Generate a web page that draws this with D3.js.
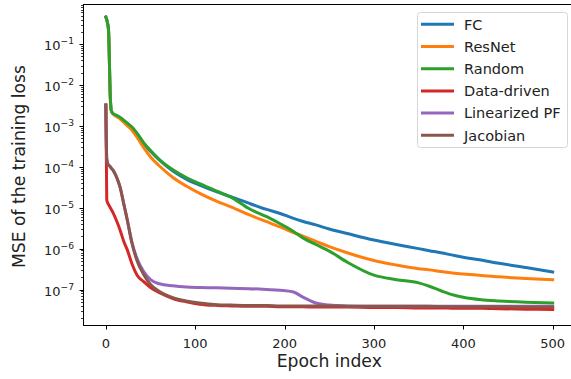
<!DOCTYPE html>
<html>
<head>
<meta charset="utf-8">
<script src="https://cdn.jsdelivr.net/npm/d3@7"></script>
<style>
  html, body { margin: 0; padding: 0; background: #fff; }
  svg { display: block; font-family: "DejaVu Sans", sans-serif; }
</style>
</head>
<body>
<div id="chart"></div>
<script>
const epochs = [0, 1, 2, 3, 5, 6, 8, 12, 16, 20, 24, 29, 35, 42, 50, 60, 75, 90, 105, 125,
  140, 160, 180, 195, 210, 220, 235, 250, 270, 300, 325, 350, 362, 375, 390, 400, 420, 440, 470, 500];

const fc = [4.6e-1, 4.0e-1, 3.2e-1, 2.2e-1, 5.0e-3, 2.4e-3, 2.0e-3, 1.78e-3, 1.58e-3, 1.35e-3,
  1.15e-3, 9.12e-4, 6.31e-4, 3.80e-4, 2.40e-4, 1.45e-4, 7.94e-5, 5.01e-5, 3.55e-5, 2.40e-5,
  1.86e-5, 1.29e-5, 9.12e-6, 7.24e-6, 5.50e-6, 4.68e-6, 3.80e-6, 3.02e-6, 2.34e-6, 1.62e-6,
  1.26e-6, 1.00e-6, 8.91e-7, 7.94e-7, 6.76e-7, 6.17e-7, 5.25e-7, 4.37e-7, 3.47e-7, 2.69e-7];

const resnet = [4.6e-1, 4.0e-1, 3.2e-1, 2.2e-1, 5.0e-3, 2.4e-3, 2.0e-3, 1.70e-3, 1.48e-3, 1.23e-3,
  1.02e-3, 7.94e-4, 5.25e-4, 3.02e-4, 1.74e-4, 1.05e-4, 5.50e-5, 3.39e-5, 2.24e-5, 1.41e-5,
  1.05e-5, 6.76e-6, 4.57e-6, 3.39e-6, 2.45e-6, 2.04e-6, 1.51e-6, 1.12e-6, 7.94e-7, 5.13e-7,
  3.98e-7, 3.24e-7, 3.02e-7, 2.75e-7, 2.51e-7, 2.40e-7, 2.19e-7, 2.04e-7, 1.86e-7, 1.74e-7];

const random = [4.6e-1, 4.0e-1, 3.2e-1, 2.2e-1, 5.0e-3, 2.4e-3, 2.0e-3, 1.82e-3, 1.62e-3, 1.38e-3,
  1.17e-3, 9.55e-4, 6.61e-4, 3.98e-4, 2.51e-4, 1.51e-4, 8.51e-5, 5.50e-5, 3.89e-5, 2.51e-5,
  1.82e-5, 9.55e-6, 6.03e-6, 4.07e-6, 2.63e-6, 1.86e-6, 1.26e-6, 8.71e-7, 4.68e-7, 2.24e-7,
  1.74e-7, 1.45e-7, 1.20e-7, 9.33e-8, 7.24e-8, 6.46e-8, 5.62e-8, 5.25e-8, 4.90e-8, 4.68e-8];

const dataDriven = [3.24e-3, 1.58e-5, 1.32e-5, 1.20e-5, 1.00e-5, 9.12e-6, 7.59e-6, 4.79e-6, 2.82e-6, 1.51e-6,
  9.33e-7, 4.37e-7, 2.24e-7, 1.58e-7, 1.12e-7, 8.32e-8, 6.03e-8, 5.01e-8, 4.37e-8, 4.07e-8,
  3.98e-8, 3.89e-8, 3.89e-8, 3.80e-8, 3.80e-8, 3.80e-8, 3.72e-8, 3.72e-8, 3.72e-8, 3.63e-8,
  3.63e-8, 3.55e-8, 3.55e-8, 3.55e-8, 3.47e-8, 3.47e-8, 3.47e-8, 3.39e-8, 3.31e-8, 3.24e-8];

const linearizedPF = [3.24e-3, 1.58e-4, 1.20e-4, 1.12e-4, 1.00e-4, 9.33e-5, 8.32e-5, 5.62e-5, 3.16e-5, 1.26e-5,
  5.01e-6, 1.51e-6, 5.62e-7, 2.82e-7, 1.74e-7, 1.38e-7, 1.23e-7, 1.15e-7, 1.12e-7, 1.10e-7,
  1.07e-7, 1.05e-7, 1.00e-7, 9.55e-8, 8.71e-8, 6.61e-8, 4.68e-8, 4.17e-8, 3.98e-8, 3.89e-8,
  3.89e-8, 3.89e-8, 3.89e-8, 3.89e-8, 3.89e-8, 3.89e-8, 3.89e-8, 3.89e-8, 3.89e-8, 3.89e-8];

const jacobian = [3.24e-3, 1.58e-4, 1.20e-4, 1.12e-4, 1.00e-4, 9.33e-5, 8.32e-5, 5.62e-5, 3.16e-5, 1.26e-5,
  5.01e-6, 1.41e-6, 5.01e-7, 2.40e-7, 1.32e-7, 8.91e-8, 6.31e-8, 5.25e-8, 4.68e-8, 4.27e-8,
  4.17e-8, 4.07e-8, 4.07e-8, 3.98e-8, 3.98e-8, 3.98e-8, 3.98e-8, 3.98e-8, 3.89e-8, 3.89e-8,
  3.89e-8, 3.89e-8, 3.89e-8, 3.80e-8, 3.80e-8, 3.80e-8, 3.80e-8, 3.80e-8, 3.72e-8, 3.72e-8];

const seriesNames = ["FC", "ResNet", "Random", "Data-driven", "Linearized PF", "Jacobian"];
const seriesValues = [fc, resnet, random, dataDriven, linearizedPF, jacobian];
const colors = ["#1f77b4", "#ff7f0e", "#2ca02c", "#d62728", "#9467bd", "#8c564b"];

const xTicks = [0, 100, 200, 300, 400, 500];
const yTickExps = [-7, -6, -5, -4, -3, -2, -1];

const width = 571, height = 379;
const plot = { left: 83.5, right: 575, top: 4.5, bottom: 325.5 };

const svg = d3.select("#chart").append("svg")
  .attr("width", width)
  .attr("height", height);

const x = d3.scaleLinear().domain([-25, 525]).range([plot.left, plot.right]);
const y = d3.scaleLog().domain([Math.pow(10, -7.88), Math.pow(10, -0.03)]).range([plot.bottom, plot.top]);

svg.append("clipPath").attr("id", "plotClip")
  .append("rect")
  .attr("x", plot.left).attr("y", plot.top)
  .attr("width", plot.right - plot.left).attr("height", plot.bottom - plot.top);

// curves
const line = d3.line()
  .x(d => x(d[0]))
  .y(d => y(d[1]))
  .curve(d3.curveMonotoneX);

const lines = svg.append("g").attr("clip-path", "url(#plotClip)");
seriesValues.forEach((vals, i) => {
  lines.append("path")
    .datum(epochs.map((e, j) => [e, vals[j]]))
    .attr("d", line)
    .attr("fill", "none")
    .attr("stroke", colors[i])
    .attr("stroke-width", 3)
    .attr("stroke-linejoin", "round")
    .attr("stroke-linecap", "square");
});

// x axis
const xAxis = svg.append("g");
xTicks.forEach(t => {
  xAxis.append("line")
    .attr("x1", Math.round(x(t)) + 0.5).attr("x2", Math.round(x(t)) + 0.5)
    .attr("y1", plot.bottom).attr("y2", plot.bottom + 4)
    .attr("stroke", "#000").attr("stroke-width", 1);
  xAxis.append("text")
    .attr("x", x(t)).attr("y", 348)
    .attr("text-anchor", "middle")
    .attr("font-size", 13)
    .attr("fill", "#222")
    .text(t);
});

// y axis, major ticks with mathtext style labels
const yAxis = svg.append("g");
yTickExps.forEach(k => {
  const py = Math.round(y(Math.pow(10, k))) + 0.5;
  yAxis.append("line")
    .attr("x1", plot.left - 4).attr("x2", plot.left)
    .attr("y1", py).attr("y2", py)
    .attr("stroke", "#000").attr("stroke-width", 1);
  const label = yAxis.append("text")
    .attr("x", 74).attr("y", py + 5)
    .attr("text-anchor", "end")
    .attr("font-size", 13)
    .attr("fill", "#222");
  label.append("tspan").text("10");
  label.append("tspan")
    .attr("dy", -5.5)
    .attr("font-size", 9.1)
    .text("\u2212" + (-k));
});

// minor ticks
for (let k = -8; k <= 0; k++) {
  for (let m = 2; m <= 9; m++) {
    const v = m * Math.pow(10, k);
    const py = y(v);
    if (py < plot.top || py > plot.bottom) continue;
    yAxis.append("line")
      .attr("x1", plot.left - 2.4).attr("x2", plot.left)
      .attr("y1", Math.round(py) + 0.5).attr("y2", Math.round(py) + 0.5)
      .attr("stroke", "#000").attr("stroke-width", 0.8);
  }
}

// spines
svg.append("rect")
  .attr("x", plot.left).attr("y", plot.top)
  .attr("width", plot.right - plot.left).attr("height", plot.bottom - plot.top)
  .attr("fill", "none")
  .attr("stroke", "#000")
  .attr("stroke-width", 1);

// axis labels
svg.append("text")
  .attr("x", (plot.left + plot.right) / 2).attr("y", 367)
  .attr("text-anchor", "middle")
  .attr("font-size", 17.2)
  .attr("fill", "#222")
  .text("Epoch index");

svg.append("text")
  .attr("transform", "translate(25," + ((plot.top + plot.bottom) / 2 + 1.5) + ") rotate(-90)")
  .attr("text-anchor", "middle")
  .attr("font-size", 17.2)
  .attr("fill", "#222")
  .text("MSE of the training loss");

// legend
const legend = svg.append("g");
legend.append("rect")
  .attr("x", 417.5).attr("y", 12.5)
  .attr("width", 150).attr("height", 135)
  .attr("rx", 3)
  .attr("fill", "#fff").attr("fill-opacity", 0.8)
  .attr("stroke", "#d6d6d6").attr("stroke-width", 1);

seriesNames.forEach((name, i) => {
  const ry = 24.3 + i * 22.2;
  legend.append("line")
    .attr("x1", 421).attr("x2", 454)
    .attr("y1", ry).attr("y2", ry)
    .attr("stroke", colors[i]).attr("stroke-width", 3);
  legend.append("text")
    .attr("x", 464).attr("y", ry + 5.2)
    .attr("font-size", 14.5)
    .attr("fill", "#222")
    .text(name);
});
</script>
</body>
</html>
